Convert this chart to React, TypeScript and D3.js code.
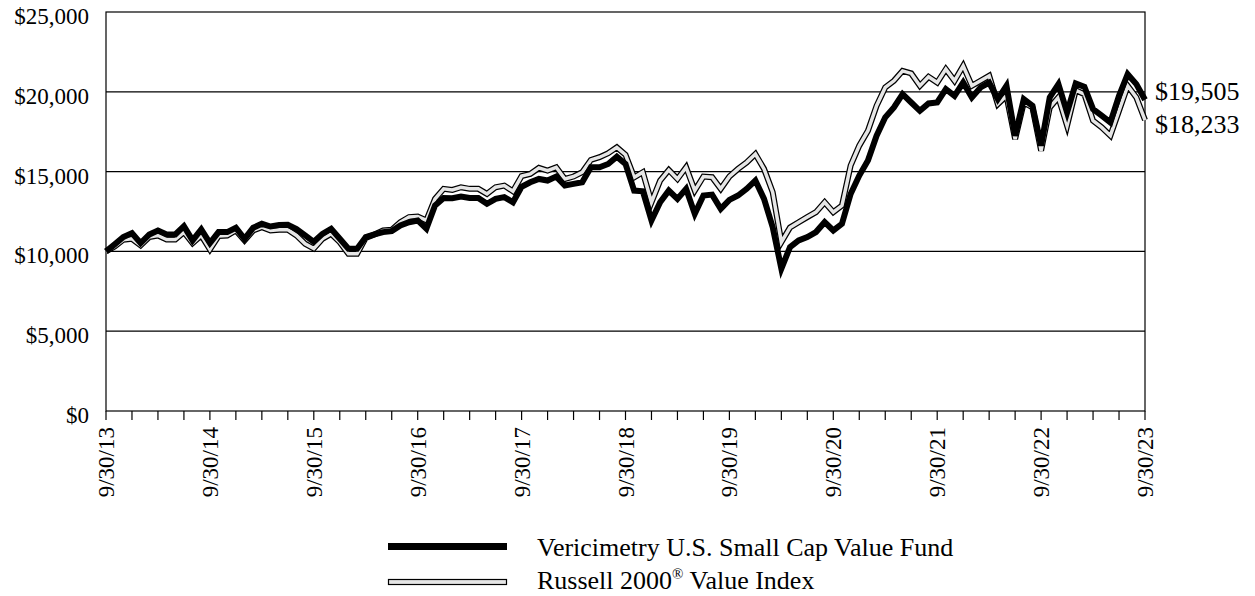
import { useEffect, useRef } from "react";
import * as d3 from "d3";

// month-end values, 9/30/13 .. 9/30/23, growth of $10,000
const fundValues = [
  10000, 10440, 10900, 11150, 10520, 11060, 11310, 11060, 11060, 11580, 10690, 11375,
  10520, 11210, 11210, 11480, 10790, 11480, 11730, 11560, 11650, 11670, 11400, 11000,
  10600, 11100, 11420, 10790, 10170, 10170, 10900, 11060, 11210, 11270, 11625, 11830,
  11940, 11420, 12875, 13350, 13330, 13440, 13350, 13350, 12980, 13290, 13400, 13080,
  14050, 14330, 14540, 14440, 14690, 14125, 14230, 14330, 15270, 15270, 15480, 15940,
  15480, 13810, 13770, 11940, 13080, 13810, 13290, 13920, 12350, 13500, 13560, 12670,
  13230, 13500, 13920, 14440, 13290, 11520, 8920, 10270, 10690, 10900, 11210, 11830,
  11310, 11730, 13600, 14750, 15690, 17250, 18400, 19020, 19850, 19330, 18810, 19270,
  19330, 20170, 19750, 20580, 19650, 20270, 20580, 19540, 20375, 17250, 19540, 19125,
  16625, 19650, 20480, 18710, 20520, 20310, 18920, 18500, 18080, 19750, 21100, 20480,
  19505,
];

const indexValues = [
  10000, 10310, 10730, 10790, 10375, 10900, 11000, 10750, 10750, 11210, 10520, 11000,
  10125, 10960, 11000, 11310, 10690, 11310, 11520, 11310, 11350, 11350, 11000, 10480,
  10180, 10790, 11100, 10580, 9850, 9850, 10850, 11060, 11310, 11350, 11830, 12150,
  12190, 11940, 13290, 13920, 13850, 14020, 13920, 13920, 13600, 14020, 14125, 13770,
  14720, 14850, 15230, 15060, 15270, 14540, 14690, 14960, 15730, 15900, 16150, 16520,
  16060, 14640, 14960, 13080, 14440, 15100, 14540, 15270, 13810, 14690, 14650, 13920,
  14690, 15170, 15580, 16100, 15170, 13710, 10580, 11500, 11830, 12150, 12460, 13080,
  12460, 12875, 15375, 16625, 17560, 19125, 20270, 20690, 21310, 21150, 20375, 20940,
  20580, 21420, 20690, 21625, 20375, 20690, 21000, 19230, 19750, 17040, 19330, 19020,
  16310, 19020, 19650, 17875, 20100, 19850, 18190, 17770, 17250, 18810, 20375, 19650,
  18233,
];

const xTickLabels = [
  "9/30/13", "9/30/14", "9/30/15", "9/30/16", "9/30/17", "9/30/18",
  "9/30/19", "9/30/20", "9/30/21", "9/30/22", "9/30/23",
];

const yTicks = [0, 5000, 10000, 15000, 20000, 25000];

const legendLabels = ["Vericimetry U.S. Small Cap Value Fund", "Russell 2000", " Value Index"];

const W = 1255;
const H = 596;
const FONT = "'Liberation Serif', 'Times New Roman', serif";

export default function App() {
  const ref = useRef<SVGSVGElement>(null);

  useEffect(() => {
    const svg = d3.select(ref.current);
    svg.selectAll("*").remove();

    const left = 106;
    const right = 1145;
    const top = 12;
    const bottom = 411;

    const x = d3.scaleLinear().domain([0, 120]).range([left, right]);
    const y = d3.scaleLinear().domain([0, 25000]).range([bottom, top]);

    svg.append("rect").attr("width", W).attr("height", H).attr("fill", "#fff");

    // gridlines
    svg
      .append("g")
      .selectAll("line")
      .data(yTicks.slice(1, -1))
      .enter()
      .append("line")
      .attr("x1", left)
      .attr("x2", right)
      .attr("y1", (d) => y(d))
      .attr("y2", (d) => y(d))
      .attr("stroke", "#000")
      .attr("stroke-width", 1.2);

    // frame
    svg
      .append("rect")
      .attr("x", left)
      .attr("y", top)
      .attr("width", right - left)
      .attr("height", bottom - top)
      .attr("fill", "none")
      .attr("stroke", "#000")
      .attr("stroke-width", 1.2);

    // y labels
    svg
      .append("g")
      .selectAll("text")
      .data(yTicks)
      .enter()
      .append("text")
      .attr("x", 89)
      .attr("y", (d) => y(d) + 12)
      .attr("text-anchor", "end")
      .attr("font-family", FONT)
      .attr("font-size", 23)
      .text((d) => d3.format("$,")(d));

    // quarterly ticks
    svg
      .append("g")
      .selectAll("line")
      .data(d3.range(0, 121, 3))
      .enter()
      .append("line")
      .attr("x1", (d) => x(d))
      .attr("x2", (d) => x(d))
      .attr("y1", bottom)
      .attr("y2", bottom + 9)
      .attr("stroke", "#000")
      .attr("stroke-width", 1.2);

    svg
      .append("g")
      .selectAll("text")
      .data(xTickLabels)
      .enter()
      .append("text")
      .attr("transform", (_, i) => `translate(${x(i * 12) + 8},${bottom + 16}) rotate(-90)`)
      .attr("text-anchor", "end")
      .attr("font-family", FONT)
      .attr("font-size", 23)
      .text((d) => d);

    const line = d3
      .line<number>()
      .x((_, i) => x(i))
      .y((d) => y(d));

    // index: outlined light line
    svg
      .append("path")
      .datum(indexValues)
      .attr("d", line)
      .attr("fill", "none")
      .attr("stroke", "#000")
      .attr("stroke-width", 6)
      .attr("stroke-linejoin", "miter");
    svg
      .append("path")
      .datum(indexValues)
      .attr("d", line)
      .attr("fill", "none")
      .attr("stroke", "#e6e6e6")
      .attr("stroke-width", 3.5)
      .attr("stroke-linejoin", "miter");

    // fund: heavy black
    svg
      .append("path")
      .datum(fundValues)
      .attr("d", line)
      .attr("fill", "none")
      .attr("stroke", "#000")
      .attr("stroke-width", 6)
      .attr("stroke-linejoin", "miter");

    // end labels
    const ends = [
      { v: fundValues[fundValues.length - 1], ty: 100 },
      { v: indexValues[indexValues.length - 1], ty: 133 },
    ];
    svg
      .append("g")
      .selectAll("text")
      .data(ends)
      .enter()
      .append("text")
      .attr("x", right + 10)
      .attr("y", (d) => d.ty)
      .attr("font-family", FONT)
      .attr("font-size", 26)
      .text((d) => d3.format("$,")(d.v));

    // legend
    const lg = svg.append("g");
    lg.append("rect")
      .attr("x", 388)
      .attr("y", 543)
      .attr("width", 119)
      .attr("height", 7)
      .attr("fill", "#000");
    lg.append("rect")
      .attr("x", 388.5)
      .attr("y", 579.5)
      .attr("width", 118)
      .attr("height", 5)
      .attr("fill", "#e6e6e6")
      .attr("stroke", "#000")
      .attr("stroke-width", 1.2);
    lg.append("text")
      .attr("x", 537)
      .attr("y", 556)
      .attr("font-family", FONT)
      .attr("font-size", 26)
      .text(legendLabels[0]);
    const t2 = lg
      .append("text")
      .attr("x", 537)
      .attr("y", 589)
      .attr("font-family", FONT)
      .attr("font-size", 26);
    t2.append("tspan").text(legendLabels[1]);
    t2.append("tspan").attr("font-size", 15).attr("dy", -10).text("®");
    t2.append("tspan").attr("dy", 10).text(legendLabels[2]);
  }, []);

  return (
    <div style={{ position: "absolute", left: 0, top: 0 }}>
      <svg ref={ref} width={W} height={H} style={{ display: "block" }} />
    </div>
  );
}
